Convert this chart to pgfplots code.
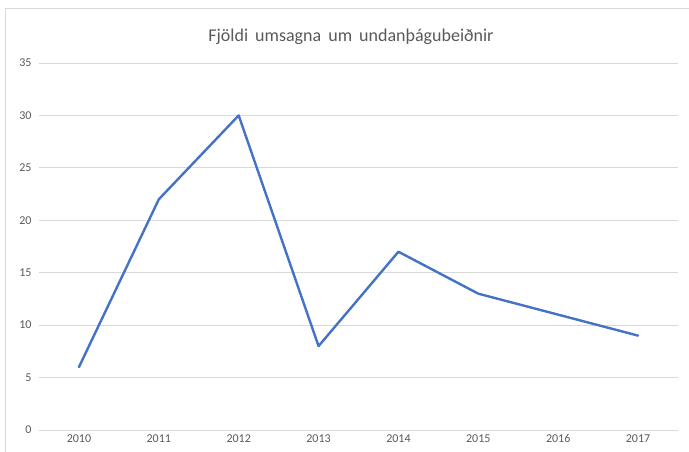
\documentclass[border=0pt]{standalone}
\usepackage{pgfplots}
\pgfplotsset{compat=1.18}
\usepackage{fontspec}
\setmainfont{Carlito}
\definecolor{lineblue}{HTML}{4472C4}
\definecolor{gridgray}{HTML}{D9D9D9}
\definecolor{txtgray}{HTML}{595959}
\begin{document}
\begin{tikzpicture}[x=1pt,y=1pt]
\path[use as bounding box] (0,0) rectangle (689,452);
\draw[color=gridgray,line width=1pt] (5.5,0) -- (5.5,443) -- (689,443);
\node[text=txtgray,font=\fontsize{18}{20}\selectfont] at (351,415) {Fjöldi\, umsagna\, um\, undanþágubeiðnir};
\begin{axis}[
  at={(39pt,22pt)}, anchor=south west,
  scale only axis, width=639pt, height=367pt,
  xmin=-0.5, xmax=7.5, ymin=0, ymax=35,
  xtick={0,...,7},
  xticklabels={2010,2011,2012,2013,2014,2015,2016,2017},
  ytick={0,5,...,35},
  axis line style={draw=none},
  tick style={draw=none},
  ymajorgrids, grid style={gridgray, line width=0.9pt},
  ticklabel style={text=txtgray, font=\fontsize{12}{14}\selectfont},
  /pgf/number format/assume math mode=true,
  yticklabel style={xshift=-4pt},
  xticklabel style={yshift=-1pt},
  clip=false,
]
\addplot[lineblue, line width=2.4pt, line join=round, line cap=round] coordinates {
(0,6) (1,22) (2,30) (3,8) (4,17) (5,13) (6,11) (7,9)
};
\end{axis}
\end{tikzpicture}
\end{document}
